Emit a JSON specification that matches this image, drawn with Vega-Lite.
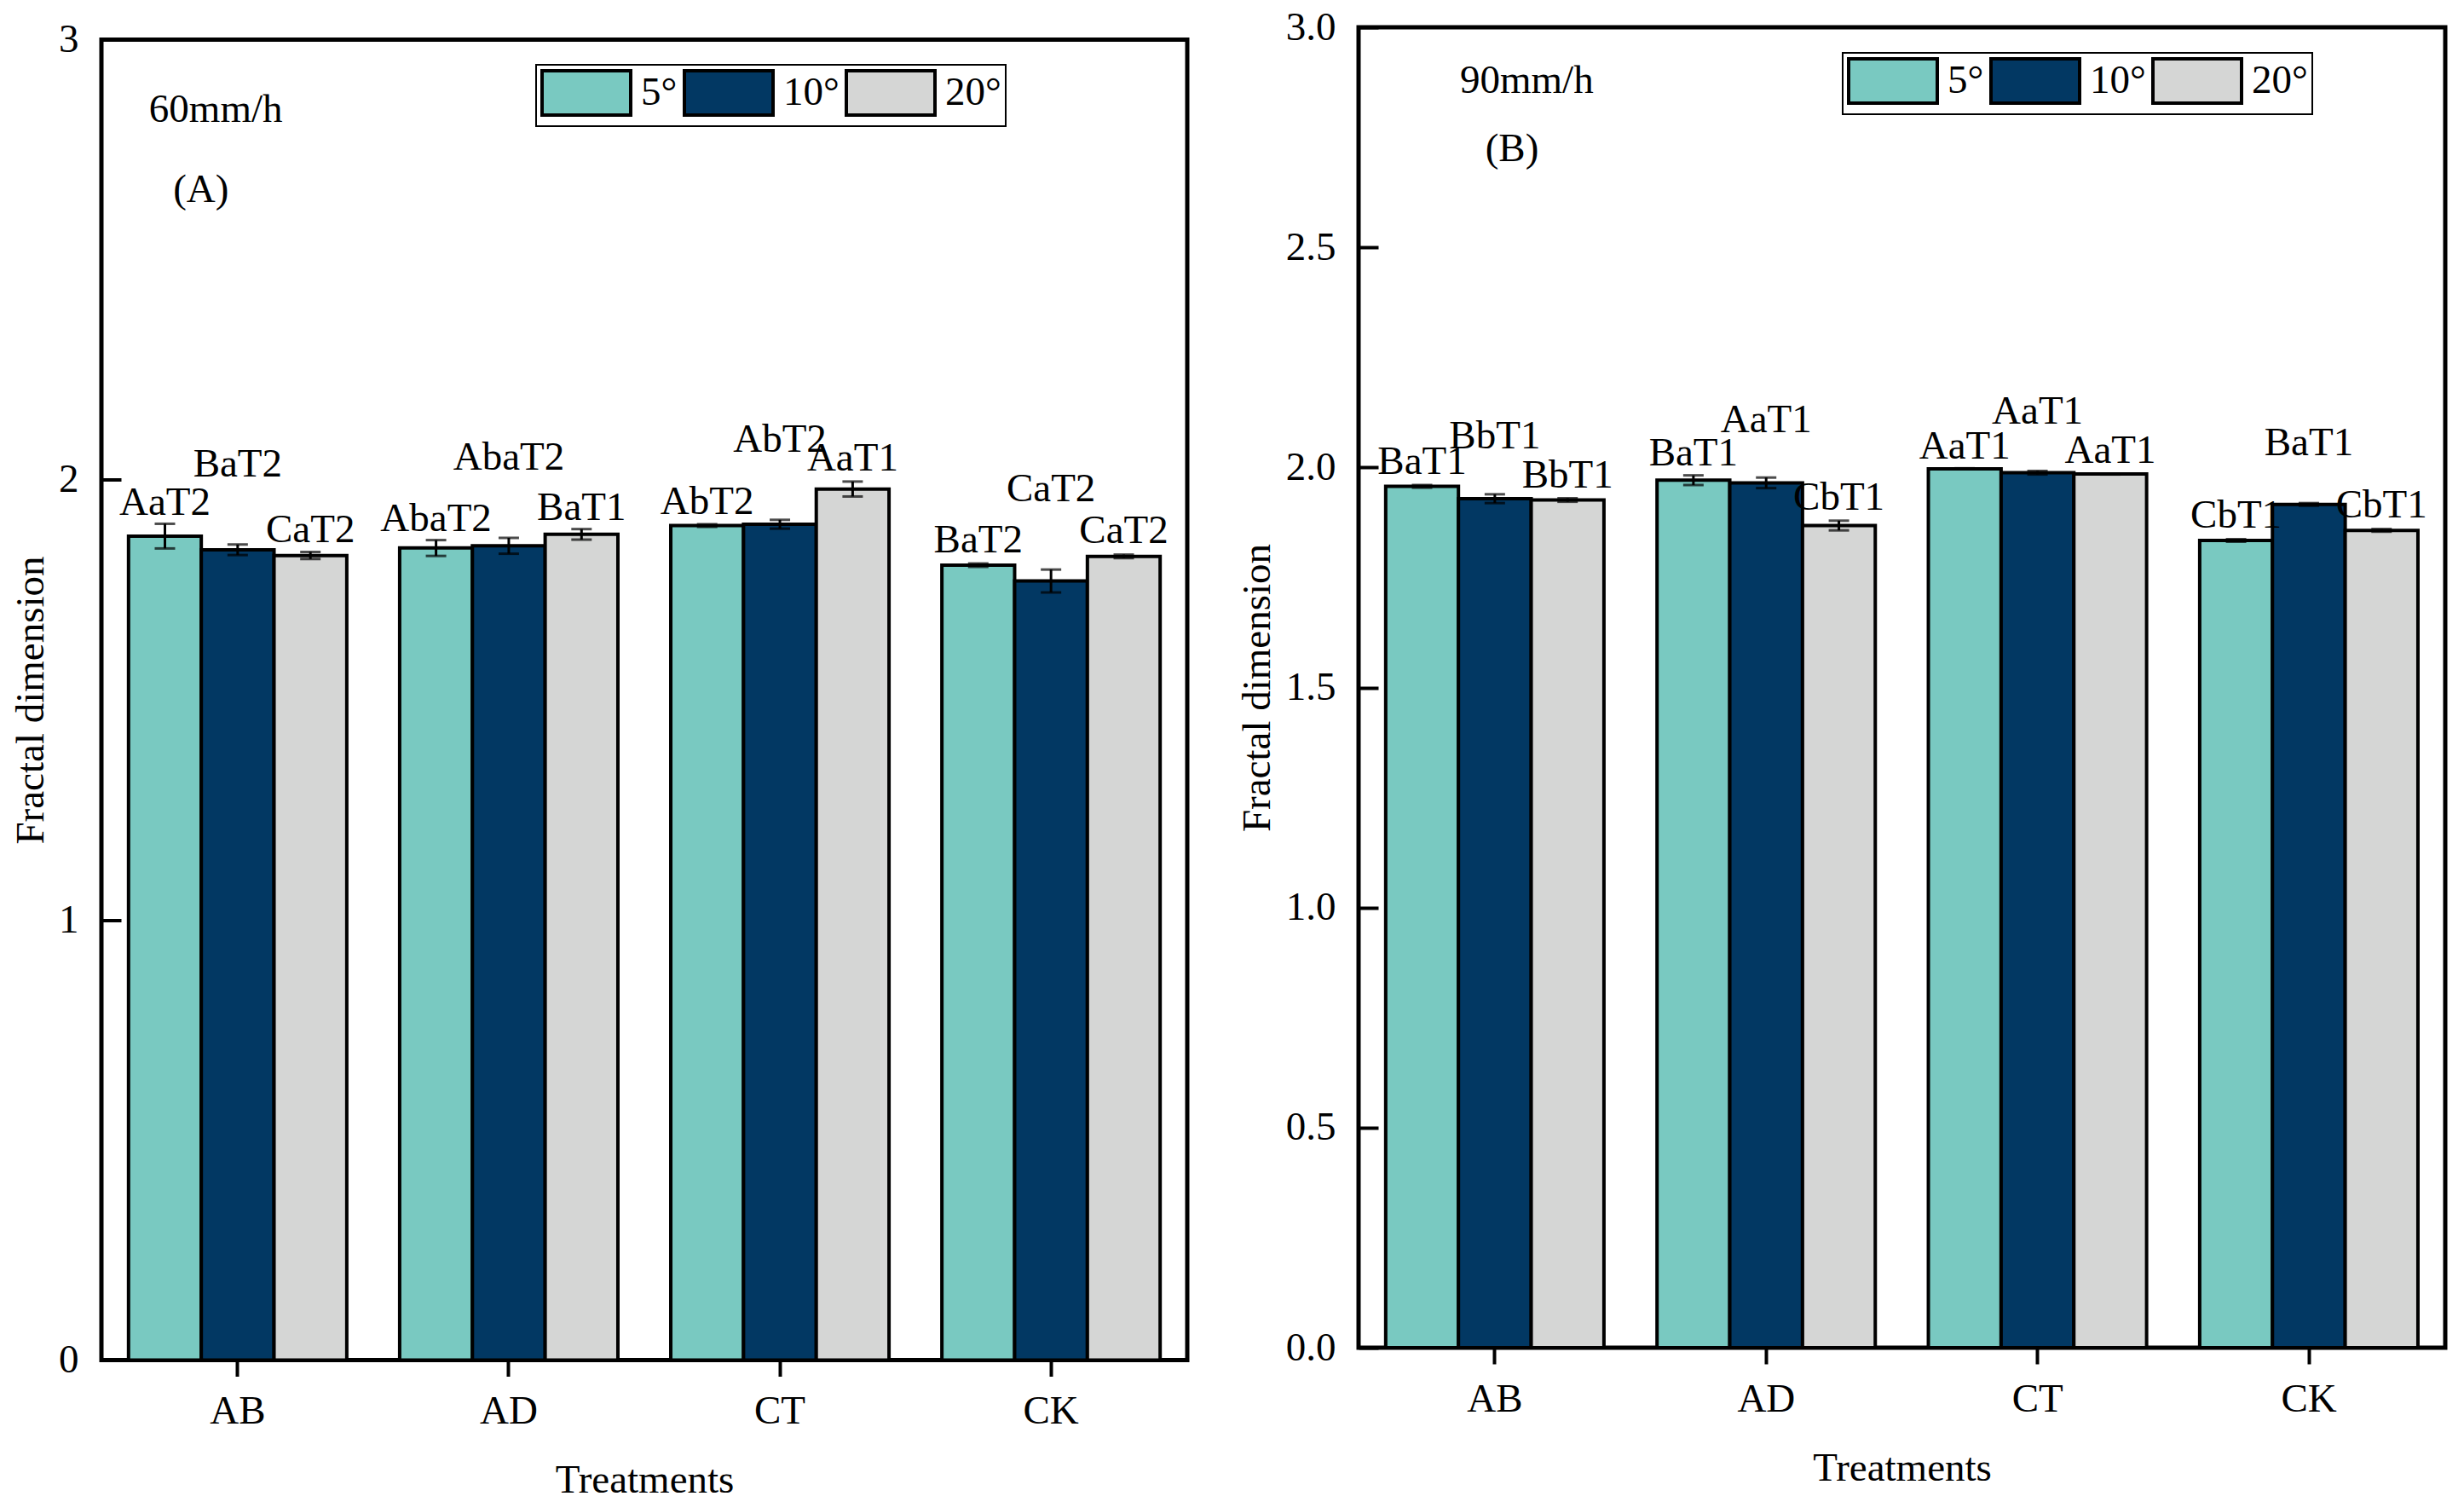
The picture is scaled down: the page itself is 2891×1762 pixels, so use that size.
{
  "$schema": "https://vega.github.io/schema/vega-lite/v6.json",
  "background": "white",
  "padding": {"left": 9, "top": 5, "right": 0, "bottom": 0},
  "spacing": 52,
  "datasets": {
    "rainA": [
      {"treatment": "AB", "slope": "5°", "value": 1.872, "lo": 1.844, "hi": 1.900, "label": "AaT2", "label_y": 1.921},
      {"treatment": "AB", "slope": "10°", "value": 1.841, "lo": 1.829, "hi": 1.853, "label": "BaT2", "label_y": 2.007},
      {"treatment": "AB", "slope": "20°", "value": 1.828, "lo": 1.820, "hi": 1.836, "label": "CaT2", "label_y": 1.859},
      {"treatment": "AD", "slope": "5°", "value": 1.845, "lo": 1.827, "hi": 1.863, "label": "AbaT2", "label_y": 1.884},
      {"treatment": "AD", "slope": "10°", "value": 1.850, "lo": 1.832, "hi": 1.868, "label": "AbaT2", "label_y": 2.022},
      {"treatment": "AD", "slope": "20°", "value": 1.876, "lo": 1.864, "hi": 1.888, "label": "BaT1", "label_y": 1.909},
      {"treatment": "CT", "slope": "5°", "value": 1.896, "lo": 1.893, "hi": 1.899, "label": "AbT2", "label_y": 1.923},
      {"treatment": "CT", "slope": "10°", "value": 1.899, "lo": 1.889, "hi": 1.909, "label": "AbT2", "label_y": 2.064},
      {"treatment": "CT", "slope": "20°", "value": 1.979, "lo": 1.962, "hi": 1.996, "label": "AaT1", "label_y": 2.021},
      {"treatment": "CK", "slope": "5°", "value": 1.806, "lo": 1.802, "hi": 1.810, "label": "BaT2", "label_y": 1.836},
      {"treatment": "CK", "slope": "10°", "value": 1.770, "lo": 1.744, "hi": 1.796, "label": "CaT2", "label_y": 1.951},
      {"treatment": "CK", "slope": "20°", "value": 1.826, "lo": 1.822, "hi": 1.830, "label": "CaT2", "label_y": 1.857}
    ],
    "rainB": [
      {"treatment": "AB", "slope": "5°", "value": 1.957, "lo": 1.954, "hi": 1.960, "label": "BaT1", "label_y": 1.985},
      {"treatment": "AB", "slope": "10°", "value": 1.929, "lo": 1.919, "hi": 1.939, "label": "BbT1", "label_y": 2.043},
      {"treatment": "AB", "slope": "20°", "value": 1.926, "lo": 1.922, "hi": 1.930, "label": "BbT1", "label_y": 1.955},
      {"treatment": "AD", "slope": "5°", "value": 1.971, "lo": 1.960, "hi": 1.982, "label": "BaT1", "label_y": 2.004},
      {"treatment": "AD", "slope": "10°", "value": 1.965, "lo": 1.953, "hi": 1.977, "label": "AaT1", "label_y": 2.081},
      {"treatment": "AD", "slope": "20°", "value": 1.868, "lo": 1.857, "hi": 1.879, "label": "CbT1", "label_y": 1.904},
      {"treatment": "CT", "slope": "5°", "value": 1.997, "lo": 1.996, "hi": 1.998, "label": "AaT1", "label_y": 2.020},
      {"treatment": "CT", "slope": "10°", "value": 1.988, "lo": 1.984, "hi": 1.992, "label": "AaT1", "label_y": 2.099},
      {"treatment": "CT", "slope": "20°", "value": 1.985, "lo": 1.984, "hi": 1.986, "label": "AaT1", "label_y": 2.010},
      {"treatment": "CK", "slope": "5°", "value": 1.834, "lo": 1.831, "hi": 1.837, "label": "CbT1", "label_y": 1.863},
      {"treatment": "CK", "slope": "10°", "value": 1.916, "lo": 1.913, "hi": 1.919, "label": "BaT1", "label_y": 2.028},
      {"treatment": "CK", "slope": "20°", "value": 1.857, "lo": 1.854, "hi": 1.860, "label": "CbT1", "label_y": 1.887}
    ]
  },
  "resolve": {"scale": {"color": "independent", "x": "independent", "y": "independent"}, "legend": {"color": "independent"}},
  "hconcat": [
    {
      "spacing": -16.5,
      "vconcat": [
        {
          "width": 1,
          "height": 1,
          "view": {"stroke": null},
          "data": {"values": [{"a": 1}]},
          "mark": {"type": "point", "opacity": 0},
          "encoding": {}
        },
        {
          "width": 1274,
          "height": 1549,
          "layer": [
            {
              "data": {"name": "rainA"},
              "mark": {"type": "bar", "stroke": "black", "strokeWidth": 4},
              "encoding": {
                "x": {"field": "treatment", "type": "nominal", "scale": {"domain": ["AB", "AD", "CT", "CK"], "paddingInner": 0.195, "paddingOuter": 0.1},
                      "axis": {"title": "Treatments", "labelAngle": 0, "tickSize": 19, "tickWidth": 4, "labelPadding": 55, "labelBaseline": "alphabetic", "domain": false, "titleY": 155, "titleBaseline": "alphabetic"}},
                "xOffset": {"field": "slope", "type": "nominal", "scale": {"domain": ["5°", "10°", "20°"], "paddingInner": 0, "paddingOuter": 0}},
                "y": {"field": "value", "type": "quantitative", "scale": {"domain": [0, 3], "nice": false},
                      "axis": {"title": "Fractal dimension", "values": [0, 1, 2, 3], "format": "d", "tickSize": -23, "tickWidth": 4, "labelPadding": 50, "domain": false, "titleX": -69, "titleBaseline": "alphabetic", "labelFlush": false, "labelOverlap": false}},
                "color": {"field": "slope", "type": "nominal", "scale": {"domain": ["5°", "10°", "20°"], "range": ["#79C9C1", "#023863", "#D5D6D5"]},
                          "legend": {"orient": "none", "legendX": 510, "legendY": 44, "direction": "horizontal", "title": null, "strokeColor": "black", "padding": 5, "symbolType": "M-2,-1H2V1H-2Z", "symbolSize": 2704, "symbolStrokeColor": "black", "symbolStrokeWidth": 4, "symbolOffset": 26, "labelOffset": 36, "labelFontSize": 47, "labelColor": "black", "columnPadding": 0, "symbolOpacity": 1, "labelLimit": 0}}
              }
            },
            {
              "data": {"name": "rainA"},
              "mark": {"type": "rule", "color": "black", "strokeWidth": 3},
              "encoding": {
                "x": {"field": "treatment", "type": "nominal"},
                "xOffset": {"field": "slope", "type": "nominal"},
                "y": {"field": "lo", "type": "quantitative"},
                "y2": {"field": "hi"}
              }
            },
            {
              "data": {"name": "rainA"},
              "mark": {"type": "tick", "orient": "horizontal", "color": "black", "thickness": 3, "size": 24},
              "encoding": {
                "x": {"field": "treatment", "type": "nominal"},
                "xOffset": {"field": "slope", "type": "nominal"},
                "y": {"field": "lo", "type": "quantitative"}
              }
            },
            {
              "data": {"name": "rainA"},
              "mark": {"type": "tick", "orient": "horizontal", "color": "black", "thickness": 3, "size": 24},
              "encoding": {
                "x": {"field": "treatment", "type": "nominal"},
                "xOffset": {"field": "slope", "type": "nominal"},
                "y": {"field": "hi", "type": "quantitative"}
              }
            },
            {
              "data": {"name": "rainA"},
              "mark": {"type": "text", "baseline": "alphabetic", "align": "center", "fontSize": 47, "font": "Liberation Serif", "color": "black"},
              "encoding": {
                "x": {"field": "treatment", "type": "nominal"},
                "xOffset": {"field": "slope", "type": "nominal"},
                "y": {"field": "label_y", "type": "quantitative"},
                "text": {"field": "label"}
              }
            },
            {
              "data": {"values": [{"note": "60mm/h", "ly": 2.814}]},
              "mark": {"type": "text", "baseline": "alphabetic", "align": "left", "dx": -104, "fontSize": 47, "font": "Liberation Serif", "color": "black"},
              "encoding": {"x": {"datum": "AB"}, "y": {"field": "ly", "type": "quantitative"}, "text": {"field": "note"}}
            },
            {
              "data": {"values": [{"note": "(A)", "ly": 2.631}]},
              "mark": {"type": "text", "baseline": "alphabetic", "align": "center", "dx": -43, "fontSize": 47, "font": "Liberation Serif", "color": "black"},
              "encoding": {"x": {"datum": "AB"}, "y": {"field": "ly", "type": "quantitative"}, "text": {"field": "note"}}
            }
          ]
        }
      ]
    },
    {
      "width": 1275,
      "height": 1549,
      "layer": [
        {
          "data": {"name": "rainB"},
          "mark": {"type": "bar", "stroke": "black", "strokeWidth": 4},
          "encoding": {
            "x": {"field": "treatment", "type": "nominal", "scale": {"domain": ["AB", "AD", "CT", "CK"], "paddingInner": 0.195, "paddingOuter": 0.1},
                  "axis": {"title": "Treatments", "labelAngle": 0, "tickSize": 19, "tickWidth": 4, "labelPadding": 55, "labelBaseline": "alphabetic", "domain": false, "titleY": 155, "titleBaseline": "alphabetic"}},
            "xOffset": {"field": "slope", "type": "nominal", "scale": {"domain": ["5°", "10°", "20°"], "paddingInner": 0, "paddingOuter": 0}},
            "y": {"field": "value", "type": "quantitative", "scale": {"domain": [0, 3], "nice": false},
                  "axis": {"title": "Fractal dimension", "values": [0, 0.5, 1, 1.5, 2, 2.5, 3], "format": ".1f", "tickSize": -23, "tickWidth": 4, "labelPadding": 50, "domain": false, "titleX": -105, "titleBaseline": "alphabetic", "labelFlush": false, "labelOverlap": false}},
            "color": {"field": "slope", "type": "nominal", "scale": {"domain": ["5°", "10°", "20°"], "range": ["#79C9C1", "#023863", "#D5D6D5"]},
                      "legend": {"orient": "none", "legendX": 568, "legendY": 30, "direction": "horizontal", "title": null, "strokeColor": "black", "padding": 5, "symbolType": "M-2,-1H2V1H-2Z", "symbolSize": 2704, "symbolStrokeColor": "black", "symbolStrokeWidth": 4, "symbolOffset": 26, "labelOffset": 36, "labelFontSize": 47, "labelColor": "black", "columnPadding": 0, "symbolOpacity": 1, "labelLimit": 0}}
          }
        },
        {
          "data": {"name": "rainB"},
          "mark": {"type": "rule", "color": "black", "strokeWidth": 3},
          "encoding": {
            "x": {"field": "treatment", "type": "nominal"},
            "xOffset": {"field": "slope", "type": "nominal"},
            "y": {"field": "lo", "type": "quantitative"},
            "y2": {"field": "hi"}
          }
        },
        {
          "data": {"name": "rainB"},
          "mark": {"type": "tick", "orient": "horizontal", "color": "black", "thickness": 3, "size": 24},
          "encoding": {
            "x": {"field": "treatment", "type": "nominal"},
            "xOffset": {"field": "slope", "type": "nominal"},
            "y": {"field": "lo", "type": "quantitative"}
          }
        },
        {
          "data": {"name": "rainB"},
          "mark": {"type": "tick", "orient": "horizontal", "color": "black", "thickness": 3, "size": 24},
          "encoding": {
            "x": {"field": "treatment", "type": "nominal"},
            "xOffset": {"field": "slope", "type": "nominal"},
            "y": {"field": "hi", "type": "quantitative"}
          }
        },
        {
          "data": {"name": "rainB"},
          "mark": {"type": "text", "baseline": "alphabetic", "align": "center", "fontSize": 47, "font": "Liberation Serif", "color": "black"},
          "encoding": {
            "x": {"field": "treatment", "type": "nominal"},
            "xOffset": {"field": "slope", "type": "nominal"},
            "y": {"field": "label_y", "type": "quantitative"},
            "text": {"field": "label"}
          }
        },
        {
          "data": {"values": [{"note": "90mm/h", "ly": 2.851}]},
          "mark": {"type": "text", "baseline": "alphabetic", "align": "left", "dx": -41, "fontSize": 47, "font": "Liberation Serif", "color": "black"},
          "encoding": {"x": {"datum": "AB"}, "y": {"field": "ly", "type": "quantitative"}, "text": {"field": "note"}}
        },
        {
          "data": {"values": [{"note": "(B)", "ly": 2.696}]},
          "mark": {"type": "text", "baseline": "alphabetic", "align": "center", "dx": 20, "fontSize": 47, "font": "Liberation Serif", "color": "black"},
          "encoding": {"x": {"datum": "AB"}, "y": {"field": "ly", "type": "quantitative"}, "text": {"field": "note"}}
        }
      ]
    }
  ],
  "config": {
    "font": "Liberation Serif",
    "view": {"stroke": "black", "strokeWidth": 5},
    "axis": {"labelFont": "Liberation Serif", "titleFont": "Liberation Serif", "labelFontSize": 47, "titleFontSize": 47, "titleFontWeight": "normal", "labelColor": "black", "titleColor": "black", "tickColor": "black", "grid": false},
    "legend": {"labelFont": "Liberation Serif", "strokeWidth": 2},
    "title": {"font": "Liberation Serif"}
  }
}
